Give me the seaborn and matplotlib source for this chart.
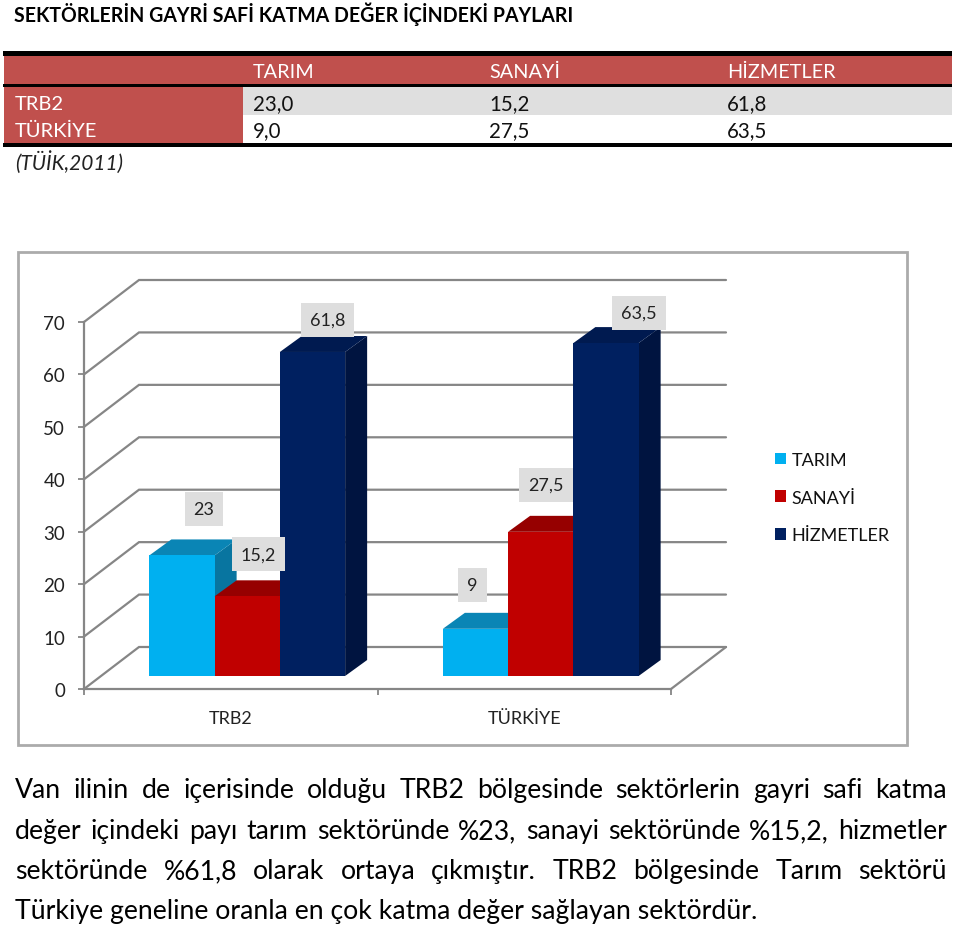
import matplotlib
matplotlib.use("Agg")
import matplotlib.pyplot as plt
from matplotlib.patches import Rectangle, Polygon
from matplotlib.transforms import Affine2D
import pandas as pd
import seaborn as sns

regions = ["TRB2", "TÜRKİYE"]
sectors = ["TARIM", "SANAYİ", "HİZMETLER"]
trb2_values = [23.0, 15.2, 61.8]
turkiye_values = [9.0, 27.5, 63.5]
table_rows = [("TRB2", ["23,0", "15,2", "61,8"]), ("TÜRKİYE", ["9,0", "27,5", "63,5"])]
title = "SEKTÖRLERİN GAYRİ SAFİ KATMA DEĞER İÇİNDEKİ PAYLARI"
source = "(TÜİK,2011)"
paragraph = [
    "Van ilinin de içerisinde olduğu TRB2 bölgesinde sektörlerin gayri safi katma",
    "değer içindeki payı tarım sektöründe %23, sanayi sektöründe %15,2, hizmetler",
    "sektöründe %61,8 olarak ortaya çıkmıştır. TRB2 bölgesinde Tarım sektörü",
    "Türkiye geneline oranla en çok katma değer sağlayan sektördür.",
]
front_colors = ["#00B0F0", "#C00000", "#002060"]
top_colors = ["#0A85B5", "#960000", "#001A50"]
side_colors = ["#0875A0", "#8A0000", "#001440"]
# manual data-label offsets (px) from each bar's front-top centre: TRB2 then TÜRKİYE
label_offsets = [[(22, 46), (11, 42), (15, 32)], [(-3, 44), (5, 47), (33, 30)]]

W, H = 960, 928
sns.set_theme(style="white")
plt.rcParams["font.family"] = ["Lato", "DejaVu Sans"]
plt.rcParams["text.color"] = "#111111"
fig = plt.figure(figsize=(W / 100, H / 100), dpi=100, facecolor="white")

# ---- page layer (pixel coordinates)
page = fig.add_axes([0, 0, 1, 1], zorder=0)
page.set_xlim(0, W)
page.set_ylim(H, 0)
page.axis("off")
page.text(14, 14, title, fontsize=14.07, fontweight="bold", va="center", color="black")

RED = "#C0504D"
page.add_patch(Rectangle((4, 56), 948, 29, color=RED, lw=0))
page.add_patch(Rectangle((4, 88), 239, 56, color=RED, lw=0))
page.add_patch(Rectangle((243, 88), 709, 28, color="#DFDFDF", lw=0))
for y0, h in [(52, 4.5), (84.5, 3.5), (144, 4)]:
    page.add_patch(Rectangle((3, y0), 949, h, color="black", lw=0))
col_x = [253, 489, 727]
for x, s in zip(col_x, sectors):
    page.text(x, 72.5, s, color="white", fontsize=14.3, va="center")
for i, (name, vals) in enumerate(table_rows):
    y = 104 + 27.5 * i
    page.text(15, y, name, color="white", fontsize=14.5, va="center")
    for x, v in zip(col_x, vals):
        page.text(x, y, v, color="#111111", fontsize=14.8, va="center")
page.text(15, 162, source, fontsize=15, style="italic", va="center", color="#222222")

page.add_patch(Rectangle((18, 253), 889, 493, fill=False, ec="#ABABAB", lw=2))

# justified paragraph
PFS = 19.2
fig.canvas.draw()
rend = fig.canvas.get_renderer()
LEFT, RIGHT = 15, 947
line_y = [790.5, 831.5, 871.5, 911.5]
for k, (line, y) in enumerate(zip(paragraph, line_y)):
    words = line.split(" ")
    if k == len(paragraph) - 1:
        page.text(LEFT, y, line, fontsize=PFS, va="center", color="black")
        continue
    arts = [page.text(0, y, w, fontsize=PFS, va="center", color="black") for w in words]
    widths = [a.get_window_extent(rend).width for a in arts]
    gap = (RIGHT - LEFT - sum(widths)) / (len(words) - 1)
    x = LEFT
    for a, wd in zip(arts, widths):
        a.set_x(x)
        x += wd + gap

# ---- chart layer: axes = front plane of the 3D box
ax = fig.add_axes([84 / W, 1 - 690 / H, 587 / W, 367 / H], zorder=1)
ax.patch.set_alpha(0)
df = pd.DataFrame({
    "region": [r for r in regions for _ in sectors],
    "sector": sectors * 2,
    "share": trb2_values + turkiye_values,
})
sns.barplot(data=df, x="region", y="share", hue="sector", hue_order=sectors,
            palette=front_colors, saturation=1, width=0.667, gap=0, ax=ax,
            linewidth=0, zorder=5)
ax.set_xlim(-0.5, 1.5)
ax.set_ylim(0, 70)
ax.set_xlabel("")
ax.set_ylabel("")

# box depth in data units
DX, DY = 55 / (587 / 2), 42 / (367 / 70)
GRID = "#868686"
yticks = list(range(0, 80, 10))
for v in yticks:
    ax.plot([-0.5, -0.5 + DX, 1.5 + DX], [v, v + DY, v + DY], color=GRID, lw=1.6,
            clip_on=False, zorder=1, solid_joinstyle="miter")
ax.plot([1.5, 1.5 + DX], [0, DY], color=GRID, lw=1.6, clip_on=False, zorder=1)

# bars stand on the floor: moved back and given depth
OX, OY = 0.3 * DX, 0.31 * DY
BX, BY = 0.4 * DX, 0.38 * DY
shift = Affine2D().translate(OX, OY) + ax.transData
for s, cont in enumerate(ax.containers):
    for g, bar in enumerate(cont):
        x0, w, h = bar.get_x(), bar.get_width(), bar.get_height()
        bar.set_transform(shift)
        bar.set_clip_on(False)
        bar.set_zorder(3 * s + 4)
        l, r, b, t = x0 + OX, x0 + w + OX, OY, h + OY
        ax.add_patch(Polygon([(r, b), (r + BX, b + BY), (r + BX, t + BY), (r, t)],
                             color=side_colors[s], lw=0, clip_on=False, zorder=3 * s + 3))
        ax.add_patch(Polygon([(l, t), (l + BX, t + BY), (r + BX, t + BY), (r, t)],
                             color=top_colors[s], lw=0, clip_on=False, zorder=3 * s + 3))
        txt = f"{h:g}".replace(".", ",")
        ax.annotate(txt, xy=(l + w / 2, t), xytext=label_offsets[g][s],
                    textcoords="offset pixels", ha="center", va="center",
                    fontsize=13, color="#222222", zorder=30, annotation_clip=False,
                    bbox=dict(boxstyle="square,pad=0.5", fc="#DEDEDE", ec="none"))

ax.set_yticks(yticks)
ax.set_xticks([0, 1])
ax.set_xticklabels(regions)
ax.set_xticks([-0.5, 0.5, 1.5], minor=True)
ax.tick_params(axis="y", which="major", length=4.5, width=1.3, color=GRID, left=True,
               labelsize=13.5, labelcolor="#222222", pad=9)
ax.tick_params(axis="x", which="major", length=0, labelsize=13, labelcolor="#222222", pad=15)
ax.tick_params(axis="x", which="minor", length=4.5, width=1.3, color=GRID, bottom=True)
for lbl in ax.get_yticklabels():
    lbl.set_verticalalignment("center_baseline")
for side in ["top", "right"]:
    ax.spines[side].set_visible(False)
for side in ["left", "bottom"]:
    ax.spines[side].set_color(GRID)
    ax.spines[side].set_linewidth(1.6)

sns.move_legend(ax, "upper left", bbox_to_anchor=(775 / W, 1 - 453 / H),
                bbox_transform=fig.transFigure, frameon=False, title=None,
                fontsize=13, labelspacing=1.2, handlelength=0.62, handleheight=0.62,
                handletextpad=0.28, borderpad=0, borderaxespad=0)

fig.savefig("out.png", dpi=100)
